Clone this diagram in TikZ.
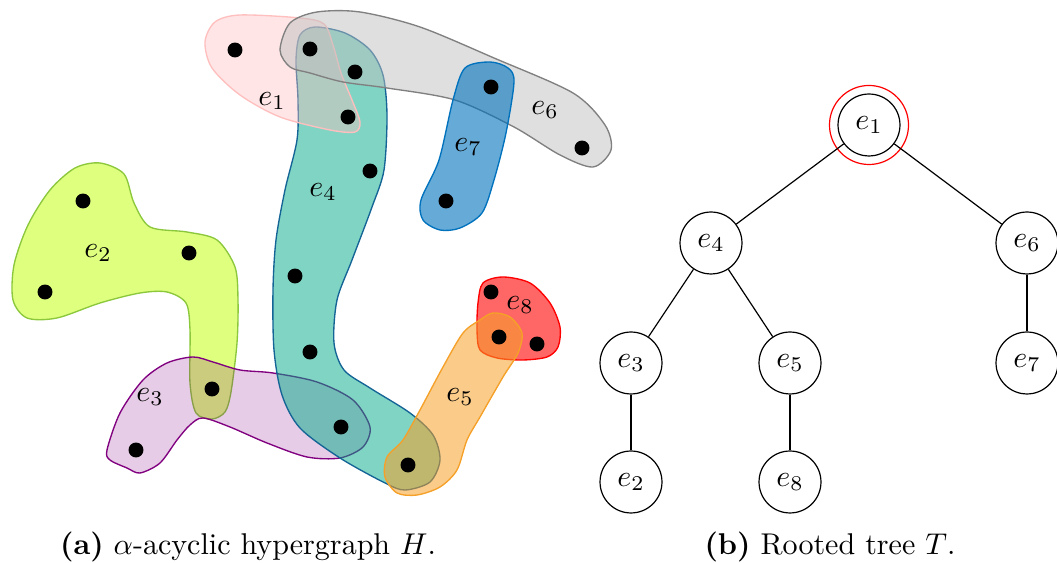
\documentclass[tikz,border=0pt]{standalone}
\usepackage{tikz}

\definecolor{cteal}{RGB}{0,170,136}
\definecolor{cbordteal}{RGB}{20,100,150}
\definecolor{cblue}{RGB}{0,114,189}
\definecolor{corange}{RGB}{245,160,40}
\definecolor{cbordgreen}{RGB}{140,200,60}

\begin{document}
\begin{tikzpicture}[x=0.0117cm, y=-0.0117cm]
\tikzset{sommet/.style={circle, fill, inner sep=0pt, minimum size=0.175cm}}
\tikzset{noeud/.style={draw, circle, minimum size=0.725cm, inner sep=0pt}}
\tikzset{hyper/.style={line width=0.45pt}}
\useasboundingbox (0,0) rectangle (1057,563);
\draw[hyper, draw=cbordgreen, fill=lime, fill opacity=0.5] plot[smooth cycle] coordinates {(100,163) (124,174) (134,203) (150,227) (187,232) (217,240) (235,267) (238,300) (237,343) (231,392) (225,412) (212,419) (196,413) (190,383) (190,330) (186,303) (167,292) (140,293) (100,303) (57,318) (27,318) (13,300) (14,265) (28,225) (50,190) (75,168)};
\draw[hyper, draw=violet, fill=violet, fill opacity=0.2] plot[smooth cycle] coordinates {(107,450) (120,413) (143,380) (167,363) (193,357) (213,362) (240,370) (273,373) (317,382) (353,400) (370,427) (363,447) (340,458) (307,457) (267,443) (230,427) (203,418) (190,425) (177,440) (160,463) (140,473) (127,468) (110,460)};
\draw[hyper, draw=cbordteal, fill=cteal, fill opacity=0.5] plot[smooth cycle] coordinates {(300,35) (315,27) (345,33) (370,50) (383,75) (387,115) (384,170) (372,207) (352,260) (337,300) (334,343) (344,370) (370,388) (410,413) (433,435) (440,460) (430,482) (405,490) (385,483) (340,458) (300,428) (282,395) (274,350) (273,290) (276,240) (285,190) (297,140) (298,100) (296,60)};
\draw[hyper, draw=pink, fill=pink, fill opacity=0.4] plot[smooth cycle] coordinates {(205,42) (215,22) (240,15) (300,18) (324,24) (333,45) (341,73) (352,100) (360,122) (355,132) (330,130) (280,117) (240,95) (212,68)};
\draw[hyper, draw=gray, fill=lightgray, fill opacity=0.5] plot[smooth cycle] coordinates {(280,50) (290,23) (317,12) (360,12) (420,27) (494,58) (573,93) (605,125) (611,150) (593,167) (560,155) (514,127) (455,100) (387,88) (343,82) (310,73) (290,67)};
\draw[hyper, draw=cblue, fill=cblue, fill opacity=0.6] plot[smooth cycle] coordinates {(490,62) (508,68) (514,82) (506,133) (494,180) (482,213) (460,228) (440,230) (423,220) (421,200) (439,160) (453,100) (465,68)};
\draw[hyper, draw=red, fill=red, fill opacity=0.6] plot[smooth cycle] coordinates {(483,283) (503,277) (530,283) (550,303) (560,327) (558,347) (547,357) (523,360) (497,358) (480,350) (477,330) (478,303)};
\draw[hyper, draw=corange, fill=corange, fill opacity=0.55] plot[smooth cycle] coordinates {(480,320) (493,313) (510,317) (522,333) (518,353) (503,377) (480,417) (467,440) (457,470) (440,487) (417,495) (397,493) (385,477) (387,457) (403,440) (420,410) (443,367) (463,333)};
\node[sommet] (a1) at (235,50) {};
\node[sommet] (a2) at (310,49) {};
\node[sommet] (a3) at (355,72) {};
\node[sommet] (a4) at (348,117) {};
\node[sommet] (a5) at (370,171) {};
\node[sommet] (a6) at (295,276) {};
\node[sommet] (a7) at (310,352) {};
\node[sommet] (a8) at (341,427) {};
\node[sommet] (a9) at (408,465) {};
\node[sommet] (a10) at (491,87) {};
\node[sommet] (a11) at (582,148) {};
\node[sommet] (a12) at (446,201) {};
\node[sommet] (a13) at (83,201) {};
\node[sommet] (a14) at (189,253) {};
\node[sommet] (a15) at (45,292) {};
\node[sommet] (a16) at (212,389) {};
\node[sommet] (a17) at (136,450) {};
\node[sommet] (a18) at (491,292) {};
\node[sommet] (a19) at (499,337) {};
\node[sommet] (a20) at (537,344) {};
\node (l1) at (272,101) {$e_1$};
\node (l2) at (98,253) {$e_2$};
\node (l3) at (150,397) {$e_3$};
\node (l4) at (323,192) {$e_4$};
\node (l5) at (460,397) {$e_5$};
\node (l6) at (545,110) {$e_6$};
\node (l7) at (468,147) {$e_7$};
\node (l8) at (520,305) {$e_8$};
\node[noeud] (E1) at (869,125) {$e_1$};
\node[noeud] (E4) at (711,243) {$e_4$};
\node[noeud] (E6) at (1027,243) {$e_6$};
\node[noeud] (E3) at (631,363) {$e_3$};
\node[noeud] (E5) at (790,363) {$e_5$};
\node[noeud] (E7) at (1027,363) {$e_7$};
\node[noeud] (E2) at (631,482) {$e_2$};
\node[noeud] (E8) at (790,482) {$e_8$};
\node[draw=red, circle, minimum size=0.925cm, inner sep=0pt] (R1) at (E1) {};
\draw (E1) -- (E4);
\draw (E1) -- (E6);
\draw (E4) -- (E3);
\draw (E4) -- (E5);
\draw (E3) -- (E2);
\draw (E5) -- (E8);
\draw (E6) -- (E7);
\node (capa) at (248,547) {\textbf{(a)} $\alpha$-acyclic hypergraph $H$.};
\node (capb) at (830,547) {\textbf{(b)} Rooted tree $T$.};
\end{tikzpicture}
\end{document}
